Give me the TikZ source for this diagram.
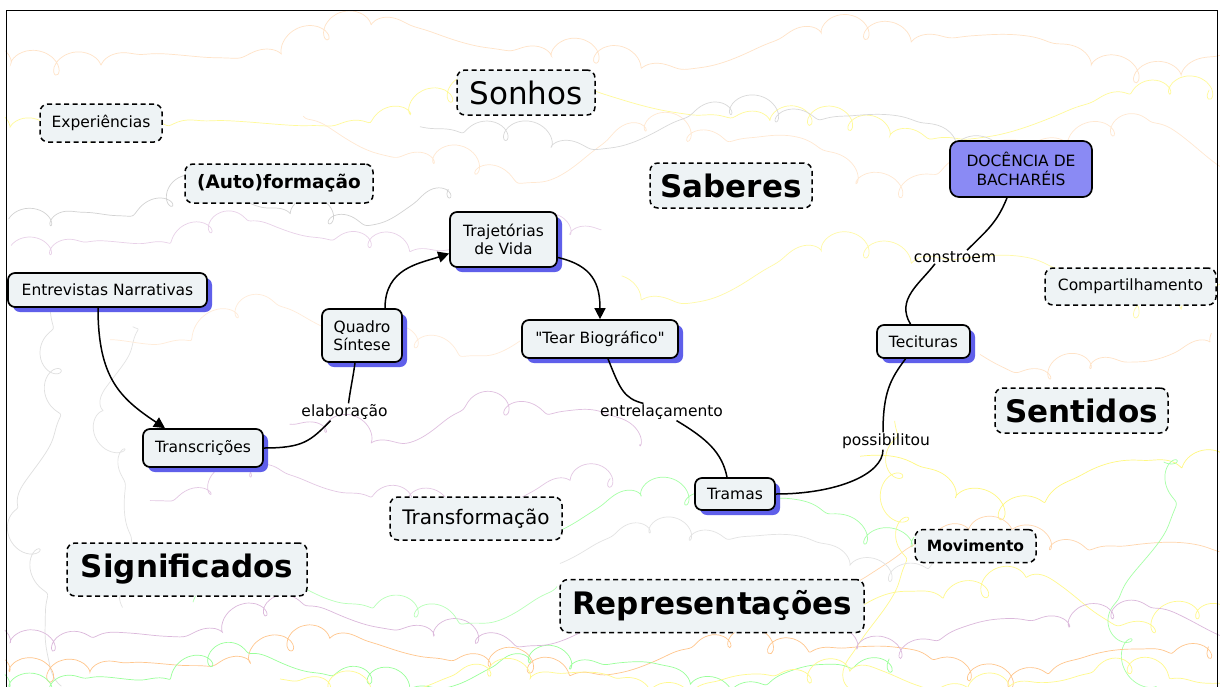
\documentclass[tikz,border=0pt]{standalone}
\usepackage{fontspec}
\setmainfont{DejaVu Sans}[Ligatures=TeXOff]
\usetikzlibrary{shadows,calc,arrows.meta}
\definecolor{nodefill}{HTML}{EEF3F5}
\definecolor{shadowc}{HTML}{5F5FEA}
\definecolor{docfill}{HTML}{8A8AF4}
\newcommand\fsmall{\fontsize{15.5}{18.5}\selectfont}
\newcommand\fmid{\fontsize{18.5}{22}\selectfont}
\newcommand\ftrans{\fontsize{20}{24}\selectfont}
\newcommand\fbig{\fontsize{31}{36}\selectfont}
\newcommand\scrib[8]{% color, t0, t1, y0, amp, freq, loopr, loopk
  \draw[#1, line width=0.7pt] plot[variable=\t, domain=#2:#3, samples=320, smooth]
    ({\t + #7*(0.5+0.5*sin(\t*#6*1.9+20))^2*cos(\t*#8)},
     {#4 + #5*sin(\t*#6) + 0.5*#5*sin(\t*#6*2.3+40) + #7*(0.5+0.5*sin(\t*#6*1.9+20))^2*sin(\t*#8)});}
\newcommand\vscrib[8]{% vertical variant
  \draw[#1, line width=0.7pt] plot[variable=\t, domain=#2:#3, samples=240, smooth]
    ({#4 + #5*sin(\t*#6) + 0.5*#5*sin(\t*#6*2.1+70) + #7*(0.5+0.5*sin(\t*#6*1.7+50))^2*sin(\t*#8)},
     {\t + #7*(0.5+0.5*sin(\t*#6*1.7+50))^2*cos(\t*#8)});}
\tikzset{
  concept/.style={draw, line width=1.7pt, rounded corners=7pt, fill=nodefill, font=\fsmall, align=center, inner sep=0pt,
    drop shadow={shadow xshift=5pt, shadow yshift=-5pt, fill=shadowc, opacity=1}},
  dashbox/.style={draw, dash pattern=on 5pt off 3.5pt, line width=1.5pt, rounded corners=8pt, fill=nodefill, inner sep=0pt},
  docbox/.style={draw, line width=1.7pt, rounded corners=9pt, fill=docfill, font=\fsmall, align=center, inner sep=0pt},
  lbl/.style={font=\fsmall, inner sep=1pt},
  link/.style={line width=1.5pt, black},
  arr/.style={link, -{Triangle[length=11pt,width=11pt]}}
}
\begin{document}
\begin{tikzpicture}[x=1pt,y=-1pt]
\clip (0,0) rectangle (1220,686);
\fill[white] (0,0) rectangle (1220,686);
% background scribbles
\scrib{orange!22}{0}{1220}{45}{18}{0.7}{12}{8}
\scrib{yellow!40}{0}{1220}{110}{22}{0.5}{11}{9}
\scrib{orange!18}{300}{1220}{150}{25}{0.9}{12}{8.5}
\scrib{gray!35}{20}{460}{205}{15}{1.3}{12}{9}
\scrib{gray!30}{420}{1000}{125}{18}{0.8}{12}{8}
\scrib{violet!18}{20}{600}{235}{12}{1.1}{10}{9}
\vscrib{gray!25}{300}{686}{40}{18}{1.2}{12}{8}
\vscrib{gray!22}{320}{600}{120}{15}{1.5}{11}{9}
\scrib{orange!15}{110}{520}{330}{20}{1.0}{11}{8}
\scrib{yellow!35}{620}{1220}{270}{25}{0.7}{12}{8}
\scrib{orange!22}{980}{1220}{355}{15}{1.1}{11}{9}
\scrib{violet!25}{290}{650}{420}{18}{1.2}{12}{8}
\scrib{violet!22}{150}{620}{490}{15}{1.0}{11}{9}
\scrib{green!35}{540}{920}{510}{20}{0.9}{12}{8}
\scrib{yellow!50}{860}{1220}{470}{25}{0.8}{13}{8}
\scrib{yellow!45}{850}{1220}{600}{22}{1.0}{13}{8.5}
\scrib{orange!32}{860}{1220}{560}{30}{0.6}{12}{9}
\vscrib{green!35}{450}{686}{1150}{25}{1.0}{12}{8}
\vscrib{yellow!45}{420}{686}{880}{25}{0.9}{13}{8.5}
\scrib{orange!45}{0}{1220}{655}{15}{0.8}{12}{9}
\scrib{green!40}{0}{900}{670}{14}{1.1}{11}{9}
\scrib{violet!28}{0}{1220}{625}{16}{0.9}{11}{8.5}
\scrib{yellow!45}{280}{1220}{678}{10}{1.2}{11}{9}
\scrib{gray!22}{560}{1000}{545}{18}{0.9}{10}{9}
\scrib{green!28}{200}{560}{600}{18}{1.0}{11}{8}
% frame
\draw[line width=1.8pt] (6.5,10.5) rectangle (1217.5,700);
% dashed boxes
\node[dashbox, font=\fsmall, minimum width=122pt, minimum height=38pt] (exp) at (101,123) {Experiências};
\node[dashbox, font=\fmid\bfseries, minimum width=188pt, minimum height=39pt] (auto) at (279,183.5) {(Auto)formação};
\node[dashbox, font=\fbig, minimum width=138pt, minimum height=45pt] (sonhos) at (526,92.5) {Sonhos};
\node[dashbox, font=\fbig\bfseries, minimum width=162pt, minimum height=45pt] (saberes) at (731,185.5) {Saberes};
\node[dashbox, font=\fsmall, minimum width=171pt, minimum height=37pt] (comp) at (1130.5,286.5) {Compartilhamento};
\node[dashbox, font=\fbig\bfseries, minimum width=173pt, minimum height=45pt] (sentidos) at (1081.5,410.5) {Sentidos};
\node[dashbox, font=\fbig\bfseries, minimum width=240pt, minimum height=53pt] (signif) at (187,569.5) {Significados};
\node[dashbox, font=\ftrans, minimum width=172pt, minimum height=43pt] (transf) at (476,518.5) {Transformação};
\node[dashbox, font=\fbig\bfseries, minimum width=304pt, minimum height=53pt] (repr) at (712,606) {Representações};
\node[dashbox, font=\fsmall\bfseries, minimum width=121pt, minimum height=33pt] (movim) at (975.5,546) {Movimento};
% concept nodes
\node[docbox, minimum width=142pt, minimum height=56pt] (doc) at (1021,169) {DOCÊNCIA DE\\BACHARÉIS};
\node[concept, minimum width=199pt, minimum height=34pt] (entre) at (107.5,290) {Entrevistas Narrativas};
\node[concept, minimum width=80pt, minimum height=53pt] (quadro) at (362,335.5) {Quadro\\Síntese};
\node[concept, minimum width=107pt, minimum height=55pt] (traj) at (503.5,239.5) {Trajetórias\\de Vida};
\node[concept, minimum width=156pt, minimum height=38pt] (tear) at (600,339) {"Tear Biográfico"};
\node[concept, minimum width=120pt, minimum height=38pt] (transc) at (203,448) {Transcrições};
\node[concept, minimum width=80pt, minimum height=32pt] (tramas) at (735,494) {Tramas};
\node[concept, minimum width=93pt, minimum height=33pt] (tec) at (923.5,341.5) {Tecituras};
% labels
\node[lbl] (elab) at (344.5,412) {elaboração};
\node[lbl] (entrel) at (661.5,412) {entrelaçamento};
\node[lbl] (constr) at (955,257) {constroem};
\node[lbl] (possib) at (886,441) {possibilitou};
% connectors
\draw[arr] ($(entre.south)+(-9.5,0)$) .. controls +(0,70) and +(-45,-30) .. ($(transc.north)+(-38,0)$);
\draw[link] (transc.east) .. controls +(40,0) and +(-20,20) .. ($(elab.south)+(-14,0)$);
\draw[link] ($(elab.north)+(4,0)$) .. controls +(2,-15) and +(-2,15) .. ($(quadro.south)+(-7,0)$);
\draw[arr] ($(quadro.north)+(23,0)$) .. controls +(0,-40) and +(-30,10) .. ($(traj.west)+(0,14)$);
\draw[arr] ($(traj.east)+(0,18)$) .. controls +(35,8) and +(0,-35) .. (tear.north);
\draw[link] ($(tear.south)+(8,0)$) .. controls +(12,30) and +(-20,-5) .. ($(entrel.north)+(-18,0)$);
\draw[link] ($(entrel.south)+(15,0)$) .. controls +(30,18) and +(-5,-25) .. ($(tramas.north)+(-8,0)$);
\draw[link] (tramas.east) .. controls +(60,0) and +(0,25) .. ($(possib.south)+(-3,0)$);
\draw[link] ($(possib.north)+(-3,0)$) .. controls +(0,-40) and +(-15,20) .. ($(tec.south)+(-18,0)$);
\draw[link] ($(tec.north)+(-13,0)$) .. controls +(-15,-25) and +(-15,20) .. ($(constr.south)+(-20,0)$);
\draw[link] ($(constr.north)+(12,0)$) .. controls +(20,-20) and +(-10,25) .. ($(doc.south)+(-14,0)$);
\end{tikzpicture}
\end{document}
